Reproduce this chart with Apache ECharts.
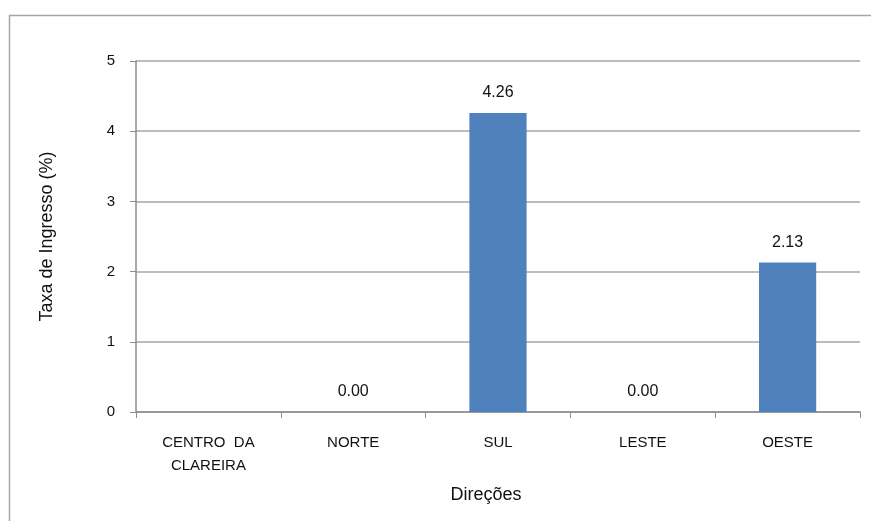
<!DOCTYPE html>
<html>
<head>
    <meta charset="utf-8">
    <title>Taxa de Ingresso</title>
    <script src="https://cdn.jsdelivr.net/npm/echarts@6/dist/echarts.min.js"></script>
</head>
<body style="margin:0">
<style type="text/css">
.grafico{width: 871px; height: 521px; background: #fff;}
</style>
    <div class="grafico" id="taxa"></div>
    <script type="text/javascript">
        // dados do gráfico
        var direcoes = ['CENTRO  DA\nCLAREIRA', 'NORTE', 'SUL', 'LESTE', 'OESTE'];
        var taxa = [null, 0.00, 4.26, 0.00, 2.13];
        var yTicks = [0, 1, 2, 3, 4, 5];

        var fonte = '"Liberation Sans", Arial, sans-serif';
        var chart = echarts.init(document.getElementById('taxa'));
        chart.setOption({
            animation: false,
            textStyle: {fontFamily: fonte},
            graphic: [{
                type: 'rect',
                shape: {x: 9.5, y: 15.5, width: 900, height: 600},
                style: {fill: 'none', stroke: '#a6a6a6', lineWidth: 1.5}
            }],
            grid: {left: 136, right: 11, top: 61, bottom: 109},
            xAxis: {
                type: 'category',
                data: direcoes,
                name: 'Direções',
                nameLocation: 'middle',
                nameGap: 74,
                nameTextStyle: {fontSize: 18, color: '#111', fontFamily: fonte, padding: [0, 24, 0, 0]},
                axisLine: {lineStyle: {color: '#8c8c8c', width: 1.5}},
                axisTick: {show: true, length: 6, alignWithLabel: false, lineStyle: {color: '#8c8c8c'}},
                axisLabel: {fontSize: 15, color: '#111', margin: 19, lineHeight: 23, interval: 0}
            },
            yAxis: {
                type: 'value',
                min: yTicks[0],
                max: yTicks[yTicks.length - 1],
                interval: 1,
                name: 'Taxa de Ingresso (%)',
                nameLocation: 'middle',
                nameGap: 80,
                nameTextStyle: {fontSize: 18, color: '#111', fontFamily: fonte},
                axisLine: {show: true, lineStyle: {color: '#8c8c8c', width: 1.5}},
                axisTick: {show: true, length: 6, lineStyle: {color: '#8c8c8c'}},
                axisLabel: {fontSize: 15, color: '#111', margin: 21},
                splitLine: {lineStyle: {color: '#a6a6a6', width: 1.5}}
            },
            series: [{
                type: 'bar',
                data: taxa,
                barWidth: '39.5%',
                itemStyle: {color: '#4f81bd'},
                label: {
                    show: true,
                    position: 'top',
                    distance: 12,
                    fontSize: 16,
                    color: '#111',
                    formatter: function (p) { return p.value == null ? '' : p.value.toFixed(2); }
                }
            }]
        });
    </script>
</body>
</html>
